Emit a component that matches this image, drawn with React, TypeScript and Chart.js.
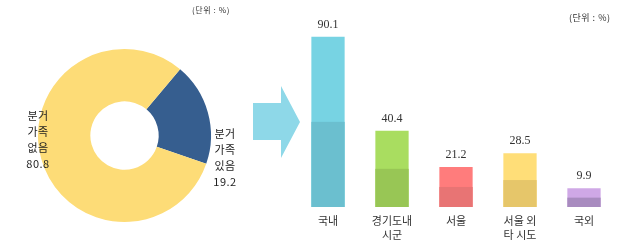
import React, { useEffect, useRef } from "react";
import { Chart, registerables } from "chart.js";

Chart.register(...registerables);

const pieLabels = ["분거 가족 있음", "분거 가족 없음"];
const pieValues = [19.2, 80.8];
const pieColors = ["#365e8f", "#fddc77"];

const barCategories = [["국내"], ["경기도내", "시군"], ["서울"], ["서울 외", "타 시도"], ["국외"]];
const barValues = [90.1, 40.4, 21.2, 28.5, 9.9];
const barTopColors = ["#77d3e3", "#a9dd60", "#ff7c7c", "#ffde78", "#cfa8e6"];
const barBottomColors = ["#6bbfcf", "#98c655", "#e87474", "#e6c66a", "#a88bbf"];

const unitText = "(단위 : %)";

const KR = '"Noto Sans CJK KR", "Noto Sans", sans-serif';

export default function App() {
  const pieRef = useRef<HTMLCanvasElement>(null);
  const barRef = useRef<HTMLCanvasElement>(null);

  useEffect(() => {
    document.body.style.margin = "0";
    const pie = new Chart(pieRef.current!, {
      type: "doughnut",
      data: {
        labels: pieLabels,
        datasets: [{ data: pieValues, backgroundColor: pieColors, borderWidth: 0 }],
      },
      options: {
        responsive: false,
        animation: false,
        rotation: 40,
        cutout: "39.5%",
        layout: { padding: { left: 38, top: 49, right: 39, bottom: 23 } },
        plugins: { legend: { display: false }, tooltip: { enabled: false } },
      },
    });

    const twoTone = {
      id: "twoTone",
      afterDatasetsDraw(chart: any) {
        const ctx = chart.ctx;
        const meta = chart.getDatasetMeta(0);
        ctx.save();
        meta.data.forEach((bar: any, i: number) => {
          const { x, y, base, width } = bar.getProps(["x", "y", "base", "width"], true);
          const mid = (y + base) / 2;
          ctx.fillStyle = barBottomColors[i];
          ctx.fillRect(x - width / 2, mid, width, base - mid);
          ctx.fillStyle = "#333";
          ctx.font = '12px "Liberation Serif", serif';
          ctx.textAlign = "center";
          ctx.textBaseline = "middle";
          ctx.fillText(String(barValues[i]), x, y - 12);
        });
        ctx.restore();
      },
    };

    const bar = new Chart(barRef.current!, {
      type: "bar",
      data: {
        labels: barCategories,
        datasets: [
          {
            data: barValues,
            backgroundColor: barTopColors,
            borderWidth: 0,
            barPercentage: 0.52,
            categoryPercentage: 1,
          },
        ],
      },
      options: {
        responsive: false,
        animation: false,
        layout: { padding: { left: 0, right: 0, top: 18, bottom: 0 } },
        plugins: { legend: { display: false }, tooltip: { enabled: false } },
        scales: {
          x: {
            grid: { display: false, drawTicks: false },
            border: { display: false },
            ticks: {
              padding: 7,
              color: "#333",
              maxRotation: 0,
              autoSkip: false,
              font: { family: KR, size: 11, lineHeight: 1.25 },
            },
            afterFit(scale: any) {
              scale.height = 38;
            },
          },
          y: { display: false, min: 0, max: 100 },
        },
      },
      plugins: [twoTone],
    });

    return () => {
      pie.destroy();
      bar.destroy();
    };
  }, []);

  const textStyle: React.CSSProperties = {
    position: "absolute",
    fontFamily: KR,
    fontSize: 11,
    lineHeight: "16px",
    color: "#222",
    textAlign: "center",
    width: 44,
    whiteSpace: "pre",
    letterSpacing: 0.5,
  };

  const unitStyle: React.CSSProperties = {
    position: "absolute",
    fontFamily: KR,
    fontSize: 8,
    lineHeight: "10px",
    color: "#333",
    whiteSpace: "pre",
    letterSpacing: 0.6,
  };

  return (
    <div style={{ position: "relative", width: 621, height: 245, background: "#fff", overflow: "hidden" }}>
      <canvas ref={pieRef} width={250} height={245} style={{ position: "absolute", left: 0, top: 0 }} />
      <canvas ref={barRef} width={320} height={245} style={{ position: "absolute", left: 296, top: 0 }} />
      <div style={{ ...textStyle, left: 16, top: 107 }}>{"분거\n가족\n없음\n80.8"}</div>
      <div style={{ ...textStyle, left: 203, top: 125 }}>{"분거\n가족\n있음\n19.2"}</div>
      <div style={{ ...unitStyle, left: 192, top: 5 }}>{unitText}</div>
      <div style={{ ...unitStyle, left: 569, top: 13, fontSize: 9, letterSpacing: 0.5 }}>{unitText}</div>
      <svg width={621} height={245} style={{ position: "absolute", left: 0, top: 0, pointerEvents: "none" }}>
        <polygon points="253,103 281,103 281,86 300,122 281,158 281,140 253,140" fill="#8ed8e8" />
      </svg>
    </div>
  );
}
